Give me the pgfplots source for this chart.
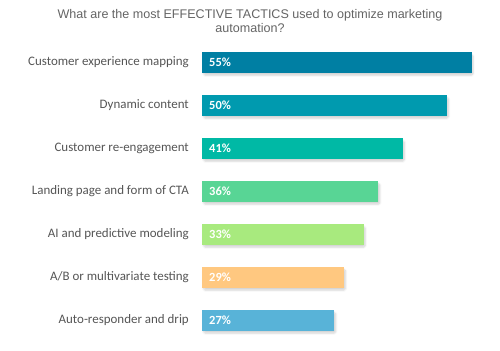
\documentclass[border=0pt]{standalone}
\usepackage{pgfplots}
\pgfplotsset{compat=1.18}
\usepackage{fontspec}
\setmainfont{Carlito}
\newfontfamily\titlefont{Liberation Sans}
\usetikzlibrary{shadows.blur}
\definecolor{c1}{RGB}{0,127,163}
\definecolor{c2}{RGB}{0,154,175}
\definecolor{c3}{RGB}{0,185,165}
\definecolor{c4}{RGB}{88,213,149}
\definecolor{c5}{RGB}{168,234,126}
\definecolor{c6}{RGB}{255,200,128}
\definecolor{c7}{RGB}{88,179,216}
\definecolor{titlegray}{RGB}{100,100,100}
\definecolor{labgray}{RGB}{85,85,85}
\begin{document}
\begin{tikzpicture}[x=1bp,y=1bp]
\useasboundingbox (0,0) rectangle (500,350);
\node[align=center, font=\titlefont\fontsize{12.6}{14.5}\selectfont, text=titlegray] at (250,329) {What are the most EFFECTIVE TACTICS used to optimize marketing\\automation?};
\begin{axis}[
  at={(202bp,8.2bp)}, anchor=south west,
  scale only axis, width=294bp, height=300.8bp,
  xmin=0, xmax=60, ymin=-0.5, ymax=6.5,
  axis line style={draw=none}, tick style={draw=none},
  xtick=\empty,
  ytick={0,1,2,3,4,5,6},
  yticklabels={Auto-responder and drip, A/B or multivariate testing, AI and predictive modeling, Landing page and form of CTA, Customer re-engagement, Dynamic content, Customer experience mapping},
  yticklabel style={inner sep=0pt, xshift=-13bp, text=labgray, font=\fontsize{13}{13}\selectfont},
  clip=false,
  every axis plot/.append style={xbar, bar width=20.5bp, bar shift=0pt, draw=none,
    blur shadow={shadow blur steps=6, shadow xshift=1.5bp, shadow yshift=-2.5bp, shadow opacity=18, shadow blur extra rounding=1.5bp}},
]
\addplot[fill=c1] coordinates {(55,6)};
\addplot[fill=c2] coordinates {(50,5)};
\addplot[fill=c3] coordinates {(41,4)};
\addplot[fill=c4] coordinates {(36,3)};
\addplot[fill=c5] coordinates {(33,2)};
\addplot[fill=c6] coordinates {(29,1)};
\addplot[fill=c7] coordinates {(27,0)};
\end{axis}
\begin{axis}[
  at={(202bp,8.2bp)}, anchor=south west,
  scale only axis, width=294bp, height=300.8bp,
  xmin=0, xmax=60, ymin=-0.5, ymax=6.5,
  hide axis, clip=false,
]
\addplot[draw=none, nodes near coords={\pgfplotspointmeta\%}, point meta=explicit symbolic,
  nodes near coords style={anchor=west, inner sep=0pt, xshift=7bp, text=white, font=\bfseries\fontsize{12.5}{12.5}\selectfont}]
  coordinates {(0,6)[55] (0,5)[50] (0,4)[41] (0,3)[36] (0,2)[33] (0,1)[29] (0,0)[27]};
\end{axis}
\end{tikzpicture}
\end{document}
